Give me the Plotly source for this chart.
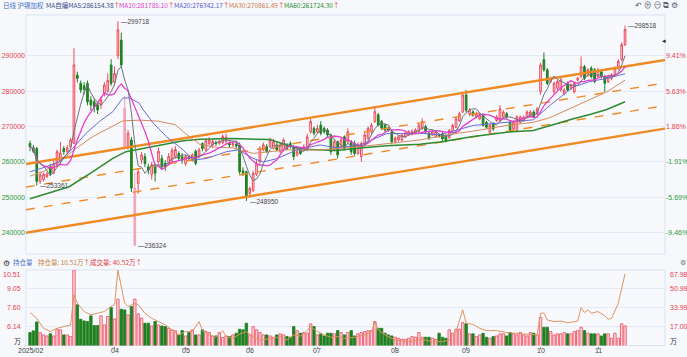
import plotly.graph_objects as go
import pandas as pd

W, H = 687, 357

# ---------------- data ----------------
holidays = ["2025-04-04", "2025-05-01", "2025-05-02", "2025-05-05", "2025-06-02",
            "2025-10-01", "2025-10-02", "2025-10-03", "2025-10-06", "2025-10-07", "2025-10-08"]
trade_days = [d for d in pd.bdate_range("2025-02-25", "2025-11-13")
              if d.strftime("%Y-%m-%d") not in holidays]

opens = [265200, 264000, 263800, 254500, 255000, 255800, 258600, 257000, 259100, 260000,
         263800, 263000, 264300, 265250, 284500, 282200, 281500, 282200, 277500, 277000,
         276100, 276000, 279400, 280000, 287400, 282500, 290000, 294400, 275200, 264000,
         266200, 236500, 253900, 260500, 261500, 258600, 256500, 258600, 260000, 261000,
         259600, 259600, 260500, 261500, 262400, 261500, 259500, 261500, 260500, 263000,
         261500, 265200, 263400, 265200, 264800, 265500, 265300, 265500, 265800, 265200,
         264800, 265000, 264770, 257500, 257240, 251100, 252000, 256500, 260000, 263400,
         264300, 264300, 263800, 264800, 262900, 263400, 264800, 265200, 264300, 262000,
         263400, 263400, 263400, 268500, 269500, 268500, 270400, 269500, 269000, 267600,
         263400, 265700, 264300, 267100, 265700, 265700, 265200, 262400, 261500, 265200,
         266700, 268500, 271400, 273300, 271400, 270400, 269500, 268500, 265700, 266200,
         266200, 267100, 267600, 267800, 268100, 268500, 269500, 270000, 268100, 267600,
         267200, 267600, 267900, 267400, 266900, 268900, 269800, 271700, 274100, 278900,
         273600, 274100, 272700, 272200, 273200, 271200, 268400, 270800, 271700, 271700,
         272700, 273600, 271200, 269300, 268900, 271200, 271700, 272700, 273200, 274100,
         273600, 279800, 288900, 286000, 282700, 279800, 280800, 280300, 279300, 282200,
         280800, 279800, 283150, 284100, 286900, 284600, 286500, 286000, 284100, 285500,
         284100, 282700, 283600, 284600, 286500, 288900, 293100]
highs = [266000, 264800, 264200, 257300, 257000, 257200, 259500, 260500, 263500, 265600,
         264500, 264800, 266800, 292100, 285500, 283000, 282500, 283000, 278500, 278000,
         277000, 278500, 282500, 285000, 289000, 287000, 299718, 296500, 278600, 269000,
         267000, 257000, 258000, 262800, 262500, 259500, 260000, 259500, 264000, 262000,
         260500, 262500, 264000, 264500, 263000, 262500, 262000, 262000, 262500, 263500,
         264000, 265500, 266500, 267000, 266500, 266000, 266300, 267800, 268000, 265800,
         265800, 266000, 265500, 258500, 257500, 253000, 257500, 260500, 264500, 265500,
         265000, 266800, 266500, 265500, 265300, 266800, 265300, 265800, 264800, 263500,
         264000, 265000, 268000, 272500, 270000, 270500, 271500, 270000, 269500, 268000,
         266500, 266000, 266800, 267500, 269500, 266200, 266000, 265500, 265800, 268500,
         270000, 271000, 275600, 273800, 271800, 270800, 270000, 269000, 267200, 267500,
         268000, 268500, 269000, 269200, 269500, 271000, 272300, 270500, 268500, 269000,
         269000, 268000, 268500, 267800, 269300, 270800, 272800, 274200, 279500, 280300,
         275200, 274600, 274200, 273800, 273800, 271600, 270800, 271300, 273200, 276000,
         274600, 274100, 271600, 271700, 273200, 273100, 273100, 274600, 274600, 274600,
         275500, 288000, 290900, 286500, 284100, 282700, 283200, 283700, 280800, 282700,
         282200, 282700, 284000, 289800, 287400, 286500, 287000, 286500, 286500, 286000,
         284600, 284600, 285100, 287000, 289000, 293800, 298518]
lows = [263000, 262500, 253361, 253800, 254500, 255500, 256000, 256500, 258500, 259500,
        262000, 262500, 263800, 265000, 282500, 279500, 279000, 276000, 274500, 274000,
        273500, 275000, 278500, 279500, 281500, 281500, 289000, 286500, 263500, 263500,
        251500, 236324, 251000, 259500, 258500, 256500, 255000, 254500, 259500, 258000,
        257500, 259000, 260000, 261000, 260500, 259500, 259000, 260500, 260000, 259000,
        261000, 263000, 263000, 264500, 264000, 264500, 264800, 265000, 265000, 264000,
        264200, 263500, 256500, 256000, 248950, 250000, 251500, 256000, 259500, 263000,
        262500, 264000, 263500, 263000, 262500, 263000, 263300, 263800, 260500, 261500,
        262000, 263000, 263000, 268000, 267500, 268000, 267500, 268000, 267000, 262000,
        263000, 261000, 264000, 263300, 265000, 262000, 261800, 262000, 260000, 264800,
        266200, 268000, 271000, 270000, 269000, 268500, 268500, 265000, 265200, 265800,
        265800, 266800, 267300, 267500, 267800, 268200, 269000, 268000, 266200, 267300,
        266800, 266800, 266000, 265500, 266500, 268500, 269500, 271300, 273800, 274000,
        273000, 272800, 272300, 271800, 270000, 269300, 268000, 268800, 271300, 271300,
        272300, 272300, 268400, 268900, 268500, 270800, 271300, 272300, 272800, 272300,
        273200, 279000, 285500, 281700, 282200, 279300, 280300, 279800, 278800, 279800,
        280300, 279300, 282700, 283600, 283100, 284100, 283600, 282200, 283600, 283600,
        279800, 282200, 283100, 284100, 286000, 288400, 292700]
closes = [264300, 263000, 254500, 256300, 256500, 256600, 256800, 259500, 262900, 262500,
          262900, 264000, 266200, 287400, 283600, 280300, 280500, 277000, 276100, 275500,
          274700, 277500, 281700, 283000, 282200, 285000, 297300, 287400, 263900, 268100,
          252600, 252600, 257200, 262000, 259500, 257700, 259100, 256800, 263000, 258600,
          258600, 261500, 263300, 263500, 261000, 260500, 261500, 261000, 262000, 259600,
          263400, 263800, 266000, 266200, 265800, 265200, 265700, 267200, 267000, 264800,
          265200, 264500, 257240, 256800, 250180, 252500, 256800, 259500, 263800, 264800,
          262900, 266200, 265700, 263400, 264800, 266200, 263800, 264300, 261500, 262900,
          262400, 264300, 267100, 271400, 268100, 269500, 268100, 268500, 267600, 262900,
          265700, 262000, 266200, 263800, 268500, 262900, 262400, 264800, 265200, 267600,
          269500, 270400, 274200, 270400, 269500, 269000, 269000, 265700, 266700, 267100,
          267600, 268100, 268500, 268600, 269000, 270400, 271400, 268500, 266700, 268500,
          268500, 267200, 266500, 266000, 268900, 270300, 272200, 273600, 278900, 274600,
          274600, 273200, 273600, 273200, 270300, 269800, 270300, 269300, 272700, 275000,
          274100, 272700, 268900, 271200, 272700, 272700, 272700, 274100, 274100, 272700,
          275000, 287400, 286000, 282200, 283600, 282200, 282700, 283200, 280300, 280300,
          281700, 282200, 283600, 286900, 283600, 286000, 284100, 282700, 286000, 284100,
          282200, 284100, 284600, 286500, 288400, 293100, 297400]
pink_days = [28, 31]

# moving averages (index, value)
ma20_i = [0, 4.7, 8.7, 12.6, 16.6, 20.5, 24.5, 27.4, 29.4, 32.3, 33.5, 36.5, 40.4, 45.3, 48.3,
          52.3, 58.2, 61.6, 66, 69, 73, 78.9, 85.8, 90.7, 97.6, 105.5, 115.3, 121.3, 131.1,
          141, 148.9, 153.8, 160.7, 165.6, 170.6, 176]
ma20_v = [257200, 258600, 260100, 263800, 268100, 271400, 274200, 278000, 278100, 276600,
          274700, 270900, 267100, 263400, 260500, 261000, 262900, 263400, 261000, 260000,
          260900, 263400, 264800, 264000, 264800, 268000, 268100, 267700, 270300, 271200,
          271900, 276000, 281200, 282700, 283600, 284900]
ma30_i = [0, 3.8, 8.7, 13.6, 18.5, 23.5, 27.4, 32.8, 38, 43, 46, 50.3, 55.2, 60, 66, 75.9,
          85.8, 95.6, 105.5, 115.3, 125.2, 131.1, 141, 148.9, 153.8, 160.7, 165.6, 170.6, 176]
ma30_v = [256000, 257200, 260100, 263800, 267100, 269500, 271600, 271800, 271500, 270500,
          268000, 264900, 264100, 264000, 262400, 263400, 263400, 264100, 265200, 266200,
          267900, 268700, 270300, 271200, 272500, 275500, 277800, 279800, 283100]
ma60_i = [0, 11.6, 18.5, 24.5, 28.4, 33, 40.4, 45.3, 50.3, 60, 71, 75.9, 80.8, 90.7, 97.6,
          105.5, 115.3, 121.3, 131.1, 141, 148.9, 153.8, 160.7, 165.6, 170.6, 176]
ma60_v = [249600, 253000, 257200, 261000, 262900, 263800, 265200, 266000, 266400, 266600,
          266300, 264800, 263600, 263200, 263900, 264600, 265000, 265600, 267200, 268400,
          268900, 270300, 272200, 273400, 274800, 277000]

# channel lines (value at left edge, value at right edge)
chan_left = [259400, 252900, 246500, 240000]
chan_right = [288800, 282300, 275900, 269400]
chan_dash = ["solid", "dash", "dash", "solid"]

# lower panel
hold_vals = [5.68, 5.81, 6.50, 5.68, 5.50, 5.42, 5.58, 5.42, 5.94, 5.89, 5.50, 5.50, 5.37, 10.51,
             7.82, 6.71, 6.58, 6.53, 6.97, 6.22, 6.22, 6.97, 6.27, 6.92, 7.61, 6.73, 8.26, 7.48,
             7.43, 7.04, 7.69, 8.26, 7.12, 6.79, 6.40, 6.40, 6.19, 6.53, 6.27, 6.19, 6.14, 6.01,
             5.89, 5.83, 5.50, 5.83, 5.42, 5.68, 5.89, 5.50, 5.50, 5.89, 5.76, 5.68, 5.42, 5.42,
             5.68, 5.30, 5.42, 5.37, 5.50, 5.63, 5.94, 5.89, 6.40, 5.50, 6.14, 5.89, 5.68, 5.50,
             5.50, 5.42, 5.32, 5.50, 5.58, 5.50, 5.37, 5.32, 6.14, 5.83, 5.63, 5.68, 5.63, 6.35,
             6.14, 5.50, 5.58, 5.42, 5.63, 5.63, 5.58, 5.83, 5.68, 5.50, 5.68, 5.83, 5.42, 5.58,
             5.68, 5.76, 5.83, 5.83, 6.53, 6.01, 6.01, 5.63, 5.50, 5.42, 5.32, 5.24, 5.16, 5.16,
             5.24, 5.37, 5.32, 5.68, 5.32, 5.32, 5.32, 5.24, 5.16, 5.63, 5.32, 5.24, 5.89, 5.63,
             5.94, 5.94, 6.45, 6.35, 5.58, 5.58, 5.37, 5.50, 5.63, 5.32, 5.24, 5.37, 5.42, 5.58,
             5.58, 5.42, 5.68, 5.58, 5.50, 5.68, 5.50, 5.42, 5.68, 5.63, 5.50, 6.86, 6.09, 6.09,
             5.76, 5.50, 5.58, 5.58, 5.68, 5.58, 5.58, 5.76, 5.83, 6.09, 5.83, 5.63, 5.58, 5.58,
             5.58, 5.42, 5.58, 5.58, 5.24, 5.63, 5.24, 6.35, 6.19]
vol_i = [0, 2, 4, 6, 8, 10, 12, 13, 14, 16, 18, 20, 22, 24, 25, 26, 27, 28, 29, 31, 32, 34, 36,
         38, 40, 42, 44, 46, 48, 50, 51, 53, 55, 57, 58, 60, 62, 64, 66, 68, 70, 72, 74, 76, 78,
         80, 82, 83, 85, 87, 89, 91, 93, 96, 99, 101, 102, 103, 105, 108, 112, 116, 119, 122,
         124, 126, 128, 129, 131, 133, 135, 138, 141, 144, 147, 150, 151, 152, 153, 155, 157,
         159, 161, 162, 163, 164, 165, 166, 168, 170, 171, 172, 174, 175, 176]
vol_v = [29.6, 24.5, 15.5, 12.5, 15.5, 17.0, 18.5, 45.7, 38.2, 30.6, 27.6, 29.1, 30.6, 35.2,
         36.7, 68.0, 53.0, 38.2, 35.0, 38.0, 36.7, 29.0, 24.5, 21.5, 18.5, 14.0, 9.5, 12.5, 12.5,
         21.5, 13.4, 9.5, 7.4, 13.4, 8.0, 6.4, 10.3, 12.5, 8.0, 4.9, 5.5, 6.4, 8.0, 4.9, 9.5,
         8.6, 13.4, 17.0, 12.5, 9.5, 7.4, 8.0, 6.4, 7.4, 9.5, 12.5, 21.5, 14.0, 9.5, 4.9, 3.4,
         5.5, 3.4, 3.4, 4.9, 12.5, 32.1, 20.0, 19.0, 15.5, 13.4, 13.4, 11.6, 11.0, 10.3, 9.5,
         29.1, 29.1, 23.0, 21.5, 22.0, 20.5, 21.5, 22.0, 34.2, 29.6, 32.0, 29.0, 30.6, 26.6,
         23.6, 24.5, 38.0, 50.0, 64.6]

price_ticks = [290000, 280000, 270000, 260000, 250000, 240000]
pct_labels = ["9.41%", "5.63%", "1.86%", "-1.91%", "-5.69%", "-9.46%"]
hold_ticks = [10.51, 9.05, 7.60, 6.14, 4.68]
vol_ticks = [67.98, 50.99, 33.99, 17.00, 0]

header_items = [("MA自编MA5:286154.38", "#3b4a88"), ("MA10:281785.10", "#e040c8"),
                ("MA20:276342.17", "#5a5ad6"), ("MA30:270861.49", "#d07a45"),
                ("MA60:261724.30", "#2e8b2e")]

# ---------------- styles / layout ----------------
RED = "#ee4a5c"
GREEN = "#1f7f1f"
TXT_RED = "#e8414f"
TXT_GREEN = "#2f9a3a"
FONT = "Liberation Sans, Noto Sans CJK SC, sans-serif"
CJK = "Noto Sans CJK SC, sans-serif"
FS = 6.5

x_left_px, x_right_px = 26, 665
main_top_px, main_bot_px = 15, 254
low_top_px, low_bot_px = 270, 345.5
step_px = 3.381
first_px = 30
xmin = (x_left_px - first_px) / step_px
xmax = (x_right_px - first_px) / step_px
xdom = [x_left_px / W, x_right_px / W]
ydom_main = [1 - main_bot_px / H, 1 - main_top_px / H]
ydom_low = [1 - low_bot_px / H, 1 - low_top_px / H]
ref_price = 265070
y_main_range = [233990, 301500]

n = len(closes)
xs = list(range(n))
up = [closes[i] >= opens[i] for i in range(n)]

fig = go.Figure()

# channel lines
for lv, rv, d in zip(chan_left, chan_right, chan_dash):
    fig.add_trace(go.Scatter(x=[xmin, xmax], y=[lv, rv], mode="lines",
                             line=dict(color="#f08a24", width=2.4 if d == "solid" else 1.4, dash=d),
                             xaxis="x", yaxis="y", hoverinfo="skip"))

# candles
norm = [i for i in xs if i not in pink_days]
fig.add_trace(go.Candlestick(
    x=norm, open=[opens[i] for i in norm], high=[highs[i] for i in norm],
    low=[lows[i] for i in norm], close=[closes[i] for i in norm],
    increasing=dict(line=dict(color=RED, width=1), fillcolor="#fde3e8"),
    decreasing=dict(line=dict(color=GREEN, width=1), fillcolor="#1f8a1f"),
    whiskerwidth=0, xaxis="x", yaxis="y"))
fig.add_trace(go.Candlestick(
    x=pink_days, open=[opens[i] for i in pink_days], high=[highs[i] for i in pink_days],
    low=[lows[i] for i in pink_days], close=[closes[i] for i in pink_days],
    increasing=dict(line=dict(color="#f2a0b2", width=1), fillcolor="#f4b0c0"),
    decreasing=dict(line=dict(color="#f2a0b2", width=1), fillcolor="#f4b0c0"),
    whiskerwidth=0, xaxis="x", yaxis="y"))

# moving averages
cs = pd.Series(closes)
ma5 = cs.rolling(5, min_periods=1).mean()
ma10 = cs.rolling(10, min_periods=1).mean()
fig.add_trace(go.Scatter(x=ma60_i, y=ma60_v, mode="lines", line=dict(color="#2e8b2e", width=1.5),
                         xaxis="x", yaxis="y"))
fig.add_trace(go.Scatter(x=ma30_i, y=ma30_v, mode="lines", line=dict(color="#d58a5c", width=1),
                         xaxis="x", yaxis="y"))
fig.add_trace(go.Scatter(x=ma20_i, y=ma20_v, mode="lines", line=dict(color="#6b6bdc", width=1),
                         xaxis="x", yaxis="y"))
fig.add_trace(go.Scatter(x=xs, y=ma10, mode="lines", line=dict(color="#e83ccc", width=1.3),
                         xaxis="x", yaxis="y"))
fig.add_trace(go.Scatter(x=xs, y=ma5, mode="lines", line=dict(color="#6e7383", width=1),
                         xaxis="x", yaxis="y"))
# invisible companion so the percentage axis on the right is drawn
fig.add_trace(go.Scatter(x=xs, y=closes, mode="lines", line=dict(width=0), opacity=0,
                         hoverinfo="skip", xaxis="x", yaxis="y2"))

# lower panel bars and line
bar_fill = ["#fbd3da" if u else "#1f7f1f" for u in up]
bar_line = [RED if u else "#1f7f1f" for u in up]
fig.add_trace(go.Bar(x=xs, y=hold_vals, width=0.72, marker=dict(color=bar_fill,
                     line=dict(color=bar_line, width=0.8)), xaxis="x2", yaxis="y3"))
fig.add_trace(go.Scatter(x=vol_i, y=vol_v, mode="lines", line=dict(color="#de9460", width=1),
                         xaxis="x2", yaxis="y4"))

# month ticks
month_pos, month_lab = [], []
prev_m = None
for i, d in enumerate(trade_days[:n]):
    if d.month != prev_m:
        lab = d.strftime("%Y/%m") if not month_pos else d.strftime("%m")
        if not month_pos or i - month_pos[-1] >= 10:
            month_pos.append(i)
            month_lab.append(lab)
        prev_m = d.month


def col(t, c):
    return f"<span style='color:{c}'>{t}</span>"


left_txt = [col(f"{v}", TXT_RED if v > ref_price else TXT_GREEN) for v in price_ticks]
right_txt = [col(p, TXT_RED if not p.startswith("-") else TXT_GREEN) for p in pct_labels]

tf = dict(family=FONT, size=7)
grid = "#e4ebf6"
fig.update_layout(
    width=W, height=H, margin=dict(l=0, r=0, t=0, b=0),
    paper_bgcolor="#f6f8fc", plot_bgcolor="#f8f9fd", showlegend=False,
    font=dict(family=FONT, size=FS, color="#333"),
    xaxis=dict(domain=xdom, range=[xmin, xmax], anchor="y", showticklabels=False,
               showgrid=False, zeroline=False, rangeslider=dict(visible=False)),
    yaxis=dict(domain=ydom_main, range=y_main_range, tickvals=price_ticks, ticktext=left_txt,
               showgrid=True, gridcolor=grid, zeroline=False, tickfont=tf, ticklen=0,
               automargin=False),
    yaxis2=dict(domain=ydom_main, range=y_main_range, overlaying="y", side="right",
                tickvals=price_ticks, ticktext=right_txt, showgrid=False, zeroline=False,
                tickfont=tf, anchor="x", automargin=False, ticklen=0),
    xaxis2=dict(domain=xdom, range=[xmin, xmax], anchor="y3", tickvals=month_pos,
                showticklabels=False, ticks="outside", ticklen=2, tickcolor="#888",
                showgrid=False, zeroline=False, automargin=False),
    yaxis3=dict(domain=ydom_low, range=[hold_ticks[-1], hold_ticks[0]], tickvals=hold_ticks,
                showticklabels=False, showgrid=True, gridcolor=grid, zeroline=False,
                anchor="x2", automargin=False),
    yaxis4=dict(domain=ydom_low, range=[0, vol_ticks[0]], overlaying="y3", side="right",
                showticklabels=False, showgrid=False, zeroline=False, anchor="x2",
                automargin=False),
)

# panel borders
for t, b in [(main_top_px, main_bot_px), (low_top_px, low_bot_px)]:
    fig.add_shape(type="rect", xref="paper", yref="paper", x0=xdom[0], x1=xdom[1],
                  y0=1 - b / H, y1=1 - t / H, line=dict(color="#d9e3f1", width=1), layer="below")


def ann_px(xp, yp, text, color, size=FS, anchor="left", family=CJK):
    fig.add_annotation(x=xp / W, y=1 - yp / H, xref="paper", yref="paper", text=text,
                       showarrow=False, xanchor=anchor, yanchor="middle",
                       font=dict(family=family, size=size, color=color))


# lower-panel tick labels (kept inside the panel edges like the reference)
def low_label_y(frac):
    yp = low_bot_px - frac * (low_bot_px - low_top_px)
    return min(max(yp, low_top_px + 4), low_bot_px - 5)


for k, v in enumerate(hold_ticks):
    frac = (v - hold_ticks[-1]) / (hold_ticks[0] - hold_ticks[-1])
    last = k == len(hold_ticks) - 1
    ann_px(23, low_label_y(frac), "万" if last else f"{v:.2f}", "#333" if last else TXT_RED,
           7, "right", CJK if last else FONT)
for k, v in enumerate(vol_ticks):
    frac = v / vol_ticks[0]
    last = k == len(vol_ticks) - 1
    ann_px(668, low_label_y(frac), "万" if last else f"{v:.2f}", "#333" if last else TXT_RED,
           7, "left", CJK if last else FONT)

# x tick labels
for p, lab in zip(month_pos, month_lab):
    fig.add_annotation(x=p, y=1 - 350.5 / H, xref="x2", yref="paper", text=lab,
                       showarrow=False, xanchor="center", yanchor="middle",
                       font=dict(family=FONT, size=7, color="#444"))

# extreme labels
marks = [(26, "h"), (2, "l"), (31, "l"), (64, "l"), (176, "h")]
for i, k in marks:
    v = highs[i] if k == "h" else lows[i]
    fig.add_annotation(x=i + 0.4, y=v, xref="x", yref="y", text=f"—{v}", showarrow=False,
                       xanchor="left", yanchor="middle", font=dict(family=FONT, size=FS, color="#444"))

# header
ann_px(1, 5, "日线 沪锡加权", "#3f6fc6")
for (t, c), xp in zip(header_items, [44, 117, 172, 227, 282]):
    ann_px(xp, 5, t + col("↑", "#e33"), c)
ann_px(633, 5, "↶ ⊕ ⊖ ⧉ ⚙", "#556070", 8)
ann_px(660, 40, "◂", "#222", 7)
ann_px(1, 262, "⚙", "#334", 8)
ann_px(11, 262, "持仓量", "#3f6fc6")
ann_px(36, 262, "持仓量: 10.51万" + col("↑", "#e33"), "#c98038")
ann_px(88, 262, "成交量: 40.52万" + col("↑", "#e33"), "#e0383c")
ann_px(678, 262, "⚙", "#777", 7)

fig.write_html("out.html", config={"displayModeBar": False},
               post_script="document.body.style.margin='0';"
               "document.body.style.overflow='hidden';")
